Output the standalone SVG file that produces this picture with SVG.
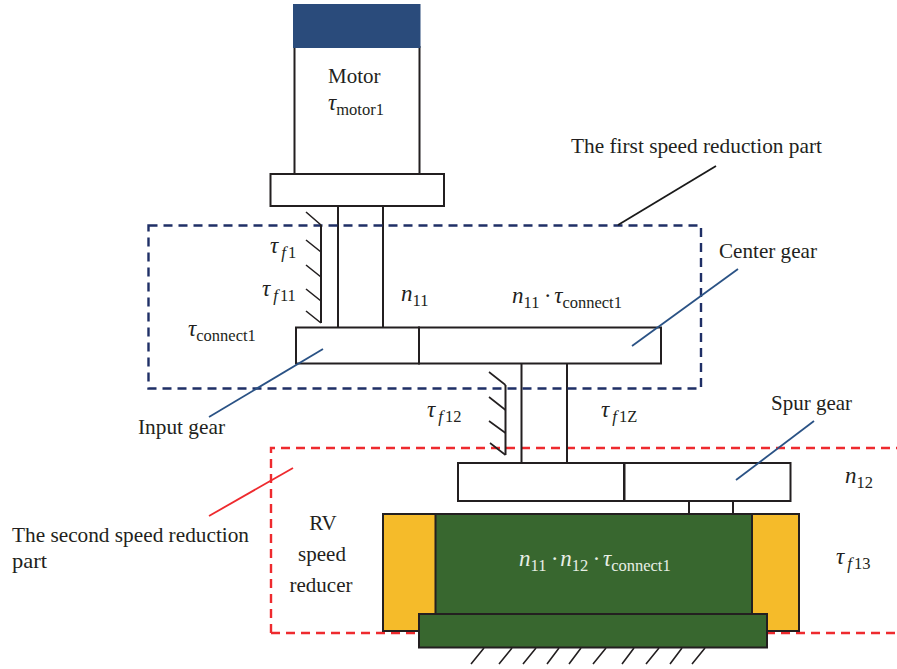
<svg xmlns="http://www.w3.org/2000/svg" width="897" height="669" viewBox="0 0 897 669">
<style>
.s{fill:#fff;stroke:#231f20;stroke-width:2}
.g{fill:#38672f;stroke:#231f20;stroke-width:2}
.y{fill:#f5bb2a;stroke:#231f20;stroke-width:2}
.l{fill:none;stroke:#231f20;stroke-width:2}
.h{fill:none;stroke:#231f20;stroke-width:1.6}
.t{font-family:"Liberation Serif",serif;font-size:21px;fill:#231f20}
.m{font-family:"Liberation Serif",serif;font-size:23px;font-style:italic;fill:#231f20}
.sb{font-size:16.500px;font-style:normal}
.si{font-size:17px;font-style:italic}
.w{fill:#e8efe6}
</style>
<g id="boxes-behind">
<path d="M271 633V448H897" fill="none" stroke="#ee2a2e" stroke-width="2.400" stroke-dasharray="9 6"/>
<path d="M271 633H897" fill="none" stroke="#ee2a2e" stroke-width="2.400" stroke-dasharray="9 6"/>
</g>
<g id="motor">
<rect class="s" x="294.500" y="47" width="125" height="127"/>
<rect x="293" y="4" width="127.500" height="44" fill="#2a4b7b"/>
<text class="t" x="328" y="83">Motor</text>
<text class="m" x="328" y="110">τ<tspan class="sb" dy="5">motor1</tspan></text>
</g>
<g id="flange"><rect class="s" x="270.500" y="174" width="173.500" height="32"/></g>
<g id="shaft1"><path class="l" d="M338 206V327M383 206V327"/></g>
<g id="input-gear"><rect class="s" x="296" y="327.500" width="123" height="36"/></g>
<g id="center-gear"><rect class="s" x="419" y="327.500" width="242" height="36"/></g>
<g id="shaft2"><path class="l" d="M521.500 364V463M567 364V463"/></g>
<g id="lower-gear"><rect class="s" x="458" y="463" width="166" height="38"/></g>
<g id="spur-gear"><rect class="s" x="624.500" y="463" width="166" height="38"/></g>
<g id="coupling"><rect class="s" x="689" y="501" width="44" height="13"/></g>
<g id="rv-reducer">
<rect class="y" x="383" y="514" width="416" height="117"/>
<rect class="g" x="435.500" y="514" width="316.500" height="100"/>
<rect class="g" x="419" y="614" width="348" height="33.500"/>
<text class="t" x="323" y="530" text-anchor="middle">RV</text>
<text class="t" x="322" y="561" text-anchor="middle">speed</text>
<text class="t" x="321" y="592" text-anchor="middle">reducer</text>
<text class="m w" x="519" y="566">n<tspan class="sb" dy="5">11</tspan><tspan dy="-5" dx="5">·</tspan><tspan dx="3">n</tspan><tspan class="sb" dy="5">12</tspan><tspan dy="-5" dx="5">·</tspan><tspan dx="4">τ</tspan><tspan class="sb" dy="5">connect1</tspan></text>
</g>
<g id="dashed-box">
<rect x="148.500" y="225.500" width="552.500" height="163" fill="none" stroke="#1f2f66" stroke-width="2.400" stroke-dasharray="9 6"/>
</g>
<g id="connectors">
<path class="l" d="M321 225V323"/>
<path class="h" d="M306 212L321 225M306 240L321 252M306 265L321 277M306 289L321 301M306 311L321 323"/>
<path class="l" d="M505.500 385V455"/>
<path class="h" d="M489 372L505.500 385M489 397L505.500 410M489 421L505.500 433M490 443L505.500 455"/>
<path class="h" d="M471 664L484 648M499 664L512 648M523 664L536 648M547 664L559 648M569 664L581 648M593 664L606 648M622 664L634 648M646 664L659 648M670 664L682 648M692 664L705 648"/>
<path d="M618 225L716 166" fill="none" stroke="#1a1a1a" stroke-width="1.800"/>
<path d="M209 417L323 349" fill="none" stroke="#2a5285" stroke-width="1.800"/>
<path d="M632 346L738 269" fill="none" stroke="#2a5285" stroke-width="1.800"/>
<path d="M736 480L814 421" fill="none" stroke="#2a5285" stroke-width="1.800"/>
<path d="M209 516L293 468" fill="none" stroke="#ee2a2e" stroke-width="1.800"/>
</g>
<g id="labels">
<text class="t" x="571" y="153" textLength="251" lengthAdjust="spacingAndGlyphs">The first speed reduction part</text>
<text class="t" x="719" y="258" textLength="98" lengthAdjust="spacingAndGlyphs">Center gear</text>
<text class="t" x="138" y="434" textLength="87" lengthAdjust="spacingAndGlyphs">Input gear</text>
<text class="t" x="771" y="410" textLength="81" lengthAdjust="spacingAndGlyphs">Spur gear</text>
<text class="t" x="12" y="542" textLength="237" lengthAdjust="spacingAndGlyphs">The second speed reduction</text>
<text class="t" x="12" y="568" textLength="35" lengthAdjust="spacingAndGlyphs">part</text>
<text class="m" x="270" y="253">τ<tspan class="si" dy="5" dx="3">f</tspan><tspan class="sb" dx="2">1</tspan></text>
<text class="m" x="262" y="296">τ<tspan class="si" dy="5" dx="3">f</tspan><tspan class="sb" dx="2">11</tspan></text>
<text class="m" x="188" y="336">τ<tspan class="sb" dy="5">connect1</tspan></text>
<text class="m" x="401" y="301">n<tspan class="sb" dy="5">11</tspan></text>
<text class="m" x="512" y="303">n<tspan class="sb" dy="5">11</tspan><tspan dy="-5" dx="5">·</tspan><tspan dx="4">τ</tspan><tspan class="sb" dy="5">connect1</tspan></text>
<text class="m" x="427" y="417">τ<tspan class="si" dy="5" dx="3">f</tspan><tspan class="sb" dx="2">12</tspan></text>
<text class="m" x="601" y="417">τ<tspan class="si" dy="5" dx="3">f</tspan><tspan class="sb" dx="2">1Z</tspan></text>
<text class="m" x="845" y="483">n<tspan class="sb" dy="5">12</tspan></text>
<text class="m" x="836" y="564">τ<tspan class="si" dy="5" dx="3">f</tspan><tspan class="sb" dx="2">13</tspan></text>
</g>
</svg>
